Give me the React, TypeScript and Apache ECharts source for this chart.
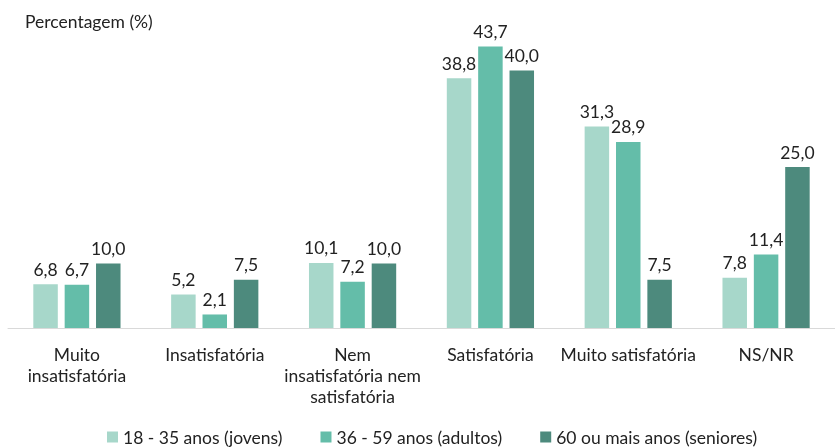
import React, { useEffect, useRef } from "react";
import * as echarts from "echarts";

const categories = [
  "Muito\ninsatisfatória",
  "Insatisfatória",
  "Nem\ninsatisfatória nem\nsatisfatória",
  "Satisfatória",
  "Muito satisfatória",
  "NS/NR",
];
const seriesNames = [
  "18 - 35 anos (jovens)",
  "36 - 59 anos (adultos)",
  "60 ou mais anos (seniores)",
];
const jovens = [6.8, 5.2, 10.1, 38.8, 31.3, 7.8];
const adultos = [6.7, 2.1, 7.2, 43.7, 28.9, 11.4];
const seniores = [10.0, 7.5, 10.0, 40.0, 7.5, 25.0];
const colors = ["#a7d7ca", "#64bda9", "#4d8a7d"];

const FONT = "Lato, 'Open Sans', sans-serif";
const FS = 17.5;

export default function App() {
  const ref = useRef<HTMLDivElement>(null);
  useEffect(() => {
    if (!ref.current) return;
    const chart = echarts.init(ref.current, undefined, { renderer: "svg" });
    const data = [jovens, adultos, seniores];
    chart.setOption({
      animation: false,
      textStyle: { fontFamily: FONT },
      title: {
        text: "Percentagem (%)",
        left: 20,
        top: 7,
        textStyle: { fontSize: FS, fontWeight: "normal", color: "#222", fontFamily: FONT },
      },
      legend: {
        top: 427,
        left: 107,
        padding: 0,
        height: 20,
        itemWidth: 11,
        itemHeight: 11,
        itemGap: 38,
        icon: "rect",
        textStyle: { fontSize: FS, lineHeight: 20, color: "#222", fontFamily: FONT },
        data: seriesNames,
      },
      grid: { left: 8, right: -10, top: 6, bottom: 120, containLabel: false },
      xAxis: {
        type: "category",
        data: categories,
        axisLine: { lineStyle: { color: "#d9d9d9", width: 1 } },
        axisTick: { show: false },
        axisLabel: {
          interval: 0,
          fontSize: FS,
          lineHeight: 21,
          color: "#222",
          margin: 16,
          fontFamily: FONT,
        },
      },
      yAxis: {
        type: "value",
        min: 0,
        max: 50,
        show: false,
        splitLine: { show: false },
      },
      series: data.map((d, i) => ({
        name: seriesNames[i],
        type: "bar",
        data: d,
        barWidth: 24.5,
        barGap: "28%",
        itemStyle: { color: colors[i] },
        label: {
          show: true,
          position: "top",
          distance: 6,
          fontSize: FS,
          color: "#222",
          fontFamily: FONT,
          formatter: (p: any) => p.value.toFixed(1).replace(".", ","),
        },
      })),
    });
    return () => chart.dispose();
  }, []);
  return (
    <div style={{ position: "fixed", left: 0, top: 0, width: 835, height: 448 }}>
      <div ref={ref} style={{ width: 835, height: 448 }} />
    </div>
  );
}
